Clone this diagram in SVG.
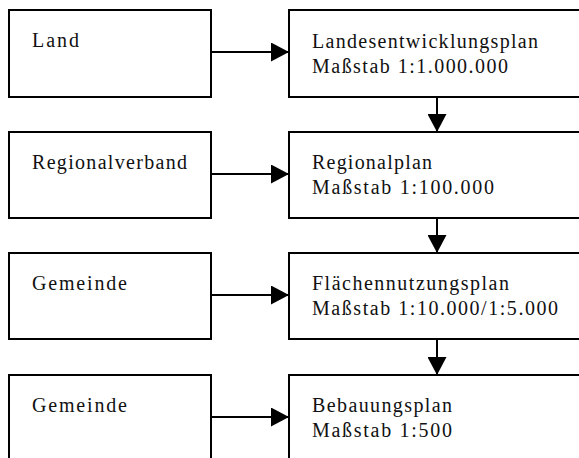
<svg xmlns="http://www.w3.org/2000/svg" width="579" height="458" viewBox="0 0 579 458">
<style>
.box{fill:#fff;stroke:#000;stroke-width:2}
.con{stroke:#000;stroke-width:2;fill:none}
text{font-family:"Liberation Serif","Times New Roman",serif;font-size:20px;fill:#111}
</style>
<defs>
<marker id="ah" viewBox="0 0 18 19" refX="18" refY="9.5" markerWidth="18" markerHeight="19" markerUnits="userSpaceOnUse" orient="auto">
<path d="M0,0 L18,9.5 L0,19 Z" fill="#000"/>
</marker>
</defs>
<rect width="579" height="458" fill="#fff"/>
<g id="land"><rect class="box" x="9" y="10" width="202" height="87"/><text x="32" y="47" textLength="47" lengthAdjust="spacing">Land</text></g>
<g id="lep"><rect class="box" x="289" y="10" width="320" height="87"/><text x="312" y="48" textLength="226" lengthAdjust="spacing">Landesentwicklungsplan</text><text x="312" y="73" textLength="196" lengthAdjust="spacing">Maßstab 1:1.000.000</text></g>
<g id="regionalverband"><rect class="box" x="9" y="132" width="202" height="86"/><text x="32" y="169" textLength="155" lengthAdjust="spacing">Regionalverband</text></g>
<g id="regionalplan"><rect class="box" x="289" y="132" width="320" height="86"/><text x="312" y="169" textLength="120" lengthAdjust="spacing">Regionalplan</text><text x="312" y="194" textLength="182" lengthAdjust="spacing">Maßstab 1:100.000</text></g>
<g id="gemeinde1"><rect class="box" x="9" y="253" width="202" height="86"/><text x="32" y="290" textLength="95" lengthAdjust="spacing">Gemeinde</text></g>
<g id="fnp"><rect class="box" x="289" y="253" width="320" height="86"/><text x="312" y="290" textLength="197" lengthAdjust="spacing">Flächennutzungsplan</text><text x="312" y="315" textLength="246" lengthAdjust="spacing">Maßstab 1:10.000/1:5.000</text></g>
<g id="gemeinde2"><rect class="box" x="9" y="375" width="202" height="100"/><text x="32" y="412" textLength="95" lengthAdjust="spacing">Gemeinde</text></g>
<g id="bplan"><rect class="box" x="289" y="375" width="320" height="100"/><text x="312" y="412" textLength="140" lengthAdjust="spacing">Bebauungsplan</text><text x="312" y="437" textLength="140" lengthAdjust="spacing">Maßstab 1:500</text></g>
<g id="connectors">
<line class="con" x1="211" y1="52" x2="289" y2="52" marker-end="url(#ah)"/>
<line class="con" x1="211" y1="174" x2="289" y2="174" marker-end="url(#ah)"/>
<line class="con" x1="211" y1="295" x2="289" y2="295" marker-end="url(#ah)"/>
<line class="con" x1="211" y1="417" x2="289" y2="417" marker-end="url(#ah)"/>
<line class="con" x1="437" y1="97" x2="437" y2="132" marker-end="url(#ah)"/>
<line class="con" x1="437" y1="218" x2="437" y2="253" marker-end="url(#ah)"/>
<line class="con" x1="437" y1="339" x2="437" y2="375" marker-end="url(#ah)"/>
</g>
</svg>
